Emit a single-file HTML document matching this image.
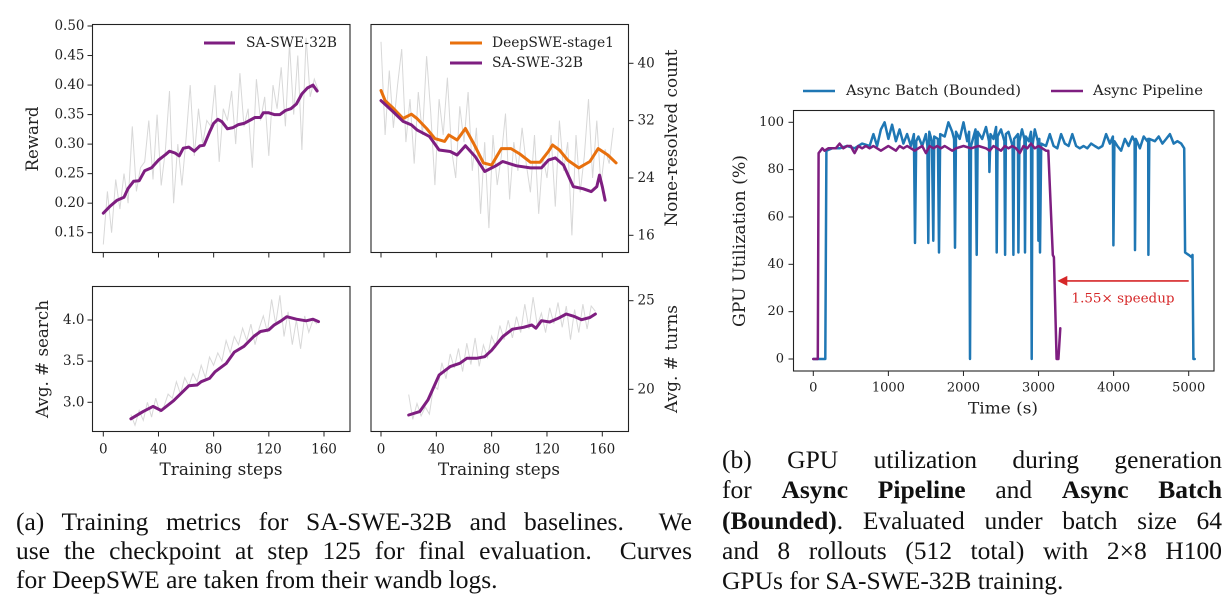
<!DOCTYPE html>
<html><head><meta charset="utf-8">
<style>
html,body{margin:0;padding:0;background:#fff;}
body{width:1232px;height:600px;position:relative;overflow:hidden;}
svg{position:absolute;left:0;top:0;}
.cap{position:absolute;font-family:"Liberation Serif",serif;font-size:25.5px;line-height:28px;color:#111;white-space:nowrap;}
.j{text-align:justify;text-align-last:justify;}
</style></head>
<body>
<svg id="fig" width="1232" height="600" xmlns="http://www.w3.org/2000/svg"></svg>

<div class="cap j" style="left:16px;top:508px;width:676px;">(a) Training metrics for SA-SWE-32B and baselines.&nbsp; We</div>
<div class="cap j" style="left:16px;top:537px;width:676px;">use the checkpoint at step 125 for final evaluation.&nbsp; Curves</div>
<div class="cap" style="left:16px;top:566px;">for DeepSWE are taken from their wandb logs.</div>

<div class="cap j" style="left:722px;top:446px;width:500px;">(b) GPU utilization during generation</div>
<div class="cap j" style="left:722px;top:476px;width:500px;">for <b>Async Pipeline</b> and <b>Async Batch</b></div>
<div class="cap j" style="left:722px;top:507px;width:500px;"><b>(Bounded)</b>. Evaluated under batch size 64</div>
<div class="cap j" style="left:722px;top:537px;width:500px;">and 8 rollouts (512 total) with 2×8 H100</div>
<div class="cap" style="left:722px;top:567px;">GPUs for SA-SWE-32B training.</div>

<script>
// ---------- data ----------
const stepTicks = [0, 40, 80, 120, 160];
const rawStep = 3;

const rewardSteps = [0,5,10,15,18,22,26,30,35,40,45,48,52,55,58,62,66,70,73,77,80,83,86,90,94,98,102,106,110,114,116,120,124,128,132,136,140,144,148,152,155];
const rewardSA = [0.183,0.195,0.205,0.21,0.225,0.237,0.238,0.255,0.26,0.273,0.282,0.288,0.285,0.28,0.293,0.295,0.288,0.297,0.298,0.32,0.335,0.342,0.338,0.326,0.328,0.333,0.335,0.34,0.345,0.345,0.353,0.353,0.35,0.35,0.357,0.36,0.368,0.385,0.395,0.4,0.39];
const rewardRaw = [0.13,0.22,0.15,0.24,0.19,0.25,0.2,0.33,0.22,0.26,0.27,0.34,0.24,0.35,0.23,0.29,0.39,0.2,0.3,0.23,0.31,0.4,0.28,0.36,0.3,0.34,0.33,0.4,0.27,0.36,0.34,0.39,0.3,0.42,0.33,0.36,0.26,0.41,0.34,0.38,0.28,0.4,0.36,0.43,0.33,0.47,0.35,0.45,0.29,0.48,0.38,0.41,0.39];
const rewardTicks = [0.15,0.20,0.25,0.30,0.35,0.40,0.45,0.50];

const deepSteps = [0,3,9,16,22,26,33,39,46,49,55,61,67,74,80,87,94,100,108,115,121,124,129,135,143,151,157,164,170];
const deepVals = [36.2,34.8,33.7,32.3,32.9,32.3,30.9,29.5,29.1,30.0,29.3,30.9,28.8,26.1,25.8,28.1,28.1,27.4,26.2,26.2,27.7,28.6,27.9,26.5,25.4,26.3,28.1,27.2,26.1];
const saUnresSteps = [0,9,16,22,26,35,42,50,55,61,68,75,83,88,98,108,116,121,126,132,139,146,152,156,158,160,162];
const saUnresVals = [34.8,33.2,31.9,31.4,30.7,29.8,27.9,27.7,27.2,28.5,27.0,24.9,25.7,26.3,25.7,25.4,25.4,26.5,26.8,25.8,22.8,22.5,22.1,22.8,24.4,22.8,20.9];
const unresRaw = [43,30,39,31,37,42,29,35,26,36,30,41,33,23,35,30,38,28,24,34,29,36,25,31,19,29,17,30,23,27,33,21,29,25,31,26,22,30,19,27,24,30,20,32,25,29,16,30,22,27,35,24,32,23,28,26,31];
const unresTicks = [16,24,32,40];

const searchSteps = [20,29,36,42,51,62,68,71,77,81,89,95,102,109,114,120,124,129,133,140,147,152,156];
const searchVals = [2.80,2.89,2.95,2.90,3.02,3.20,3.21,3.25,3.29,3.37,3.47,3.61,3.68,3.80,3.86,3.88,3.94,3.99,4.04,4.01,3.99,4.01,3.98];
const searchRaw = [2.85,2.72,2.9,2.78,3.0,2.82,3.05,2.88,2.95,3.1,3.05,3.25,3.1,3.3,3.2,3.35,3.25,3.45,3.3,3.55,3.45,3.6,3.5,3.75,3.6,3.8,3.7,3.9,3.75,3.95,3.7,3.9,4.05,3.85,4.25,3.95,4.3,3.8,4.1,3.7,4.0,3.65,4.05,3.85,4.0,3.95];
const searchTicks = [3.0,3.5,4.0];

const turnsSteps = [20,28,34,42,50,57,62,69,75,80,88,95,103,109,112,116,122,128,134,140,145,151,155];
const turnsVals = [18.55,18.74,19.4,20.8,21.28,21.47,21.75,21.75,21.84,22.2,22.97,23.39,23.5,23.63,23.45,23.87,23.8,24.0,24.25,24.1,23.93,24.05,24.25];
const turnsRaw = [19.7,18.3,19.2,18.5,19.0,18.6,20.2,20.0,21.5,20.6,22.0,21.2,22.3,21.0,22.6,21.4,22.9,21.3,22.5,21.8,23.0,22.4,23.6,22.8,23.9,22.9,24.1,23.2,24.8,23.4,25.2,23.6,24.3,23.2,24.6,23.7,24.9,23.5,24.7,22.8,24.5,23.2,24.8,23.4,24.7,24.4];
const turnsTicks = [20,25];

const timeTicks = [0,1000,2000,3000,4000,5000];
const utilTicks = [0,20,40,60,80,100];
const batchSeries = [[0,0],[160,0],[175,88],[250,89],[350,89],[450,90],[550,89],[650,91],[750,90],[800,95],[850,90],[900,97],[950,100],[1000,93],[1050,99],[1100,92],[1150,97],[1200,91],[1250,95],[1300,90],[1340,95],[1354,49],[1370,92],[1400,94],[1450,90],[1500,95],[1520,90],[1532,49],[1545,96],[1580,92],[1598,50],[1610,94],[1660,93],[1674,45],[1690,95],[1750,94],[1800,100],[1850,96],[1875,93],[1887,47],[1900,96],[1950,93],[2000,100],[2050,92],[2075,96],[2087,0],[2100,90],[2160,97],[2176,44],[2190,96],[2250,93],[2300,98],[2340,92],[2345,79],[2360,95],[2400,93],[2435,98],[2443,45],[2455,94],[2500,97],[2545,92],[2554,44],[2565,95],[2600,96],[2655,90],[2665,44],[2675,93],[2725,95],[2732,45],[2745,92],[2780,97],[2812,93],[2820,45],[2830,94],[2870,92],[2900,96],[2909,0],[2918,90],[2950,97],[2990,92],[2998,50],[3010,93],[3020,45],[3035,91],[3100,90],[3150,95],[3200,90],[3250,89],[3300,95],[3350,91],[3400,90],[3450,95],[3500,90],[3550,89],[3600,90],[3650,89],[3700,91],[3750,90],[3800,89],[3850,90],[3900,95],[3950,91],[3990,94],[3997,48],[4010,92],[4050,90],[4100,88],[4150,93],[4200,90],[4250,94],[4280,92],[4285,46],[4295,93],[4350,89],[4400,94],[4450,92],[4460,93],[4463,44],[4475,93],[4550,92],[4600,94],[4650,91],[4700,93],[4750,95],[4800,91],[4850,92],[4900,91],[4940,89],[4952,45],[5000,44],[5040,43],[5050,44],[5063,0],[5080,0]];
const pipelineSeries = [[0,0],[60,0],[70,87],[120,89],[150,88],[200,89],[300,89],[350,91],[400,89],[450,90],[500,90],[530,88],[550,87],[600,90],[650,89],[700,90],[750,89],[800,90],[850,89],[900,88],[950,89],[1000,90],[1050,89],[1100,88],[1150,90],[1200,89],[1250,90],[1300,89],[1350,88],[1400,89],[1450,90],[1500,87],[1550,90],[1600,89],[1650,90],[1700,89],[1750,90],[1800,89],[1850,88],[1900,89],[2000,90],[2100,89],[2200,90],[2300,89],[2350,88],[2400,90],[2450,89],[2500,88],[2550,90],[2600,89],[2650,90],[2700,89],[2750,87],[2800,90],[2850,89],[2900,91],[2950,89],[3000,90],[3050,89],[3100,88],[3130,88],[3190,44],[3205,43],[3240,0],[3265,0],[3290,13]];
const speedupLabel = "1.55× speedup";
const speedupFrom = 5000, speedupTo = 3250, speedupY = 33;

// ---------- drawing ----------
const NS = "http://www.w3.org/2000/svg";
const svg = document.getElementById('fig');
const PURPLE = "#7e1e80", ORANGE = "#e8700d", BLUE = "#1f77b4", GRAY = "#d8d8d8";
const TICKFONT = '"DejaVu Serif", "Liberation Serif", serif';

function mk(tag, attrs, parent) {
  const e = document.createElementNS(NS, tag);
  for (const k in attrs) e.setAttribute(k, attrs[k]);
  (parent || svg).appendChild(e);
  return e;
}
function lin(d0, d1, r0, r1) { return v => r0 + (v - d0) * (r1 - r0) / (d1 - d0); }
function txt(s, x, y, size, anchor, parent, extra) {
  const t = mk('text', Object.assign({x: x, y: y, 'font-size': size, 'font-family': TICKFONT, fill: '#222', 'text-anchor': anchor || 'start', 'dominant-baseline': 'central'}, extra || {}), parent);
  t.textContent = s;
  return t;
}
function pathFrom(xs, ys, sx, sy) {
  return xs.map((v, i) => (i ? 'L' : 'M') + sx(v).toFixed(1) + ',' + sy(ys[i]).toFixed(1)).join('');
}

function panel(name) {
  const g = mk('g', {});
  
  
  return g;
}
function frame(g, box) {
  const r = mk('rect', {x: box.l, y: box.t, width: box.r - box.l, height: box.b - box.t, fill: 'none', stroke: '#222', 'stroke-width': 1.1}, g);
  
  
}
function xTicks(g, box, sx, ticks, labels) {
  ticks.forEach(v => {
    const x = sx(v);
    mk('line', {x1: x, x2: x, y1: box.b, y2: box.b + 5, stroke: '#222', 'stroke-width': 1}, g);
    if (labels) {
      const t = txt(String(v), x, box.b + 18, 13.5, 'middle', g);
      
      
    }
  });
}
function yTicks(g, box, sy, ticks, side, fmt) {
  ticks.forEach(v => {
    const y = sy(v);
    if (side === 'left') {
      mk('line', {x1: box.l - 5, x2: box.l, y1: y, y2: y, stroke: '#222', 'stroke-width': 1}, g);
      const t = txt(fmt(v), box.l - 8, y, 13.5, 'end', g);
      
      
    } else {
      mk('line', {x1: box.r, x2: box.r + 5, y1: y, y2: y, stroke: '#222', 'stroke-width': 1}, g);
      const t = txt(fmt(v), box.r + 9, y, 13.5, 'start', g);
      
      
    }
  });
}
function rawLine(g, values, start, sx, sy, clipId) {
  const xs = values.map((v, i) => start + i * rawStep);
  const p = mk('path', {d: pathFrom(xs, values, sx, sy), fill: 'none', stroke: GRAY, 'stroke-width': 1, 'clip-path': 'url(#' + clipId + ')'}, g);
  
  
}
function smoothLine(g, xs, ys, sx, sy, color, name, w) {
  const p = mk('path', {d: pathFrom(xs, ys, sx, sy), fill: 'none', stroke: color, 'stroke-width': w || 3, 'stroke-linejoin': 'round', 'stroke-linecap': 'round'}, g);
  
  
}
function clip(id, box) {
  const defs = mk('defs', {});
  const c = mk('clipPath', {id: id}, defs);
  mk('rect', {x: box.l, y: box.t, width: box.r - box.l, height: box.b - box.t}, c);
}
function vlabel(g, s, x, y, len, rot, name) {
  const t = mk('text', {x: 0, y: 0, transform: 'translate(' + x + ',' + y + ') rotate(' + rot + ')', 'font-size': 17, 'font-family': TICKFONT, fill: '#222', 'text-anchor': 'middle', 'dominant-baseline': 'central', textLength: len, lengthAdjust: 'spacingAndGlyphs'}, g);
  t.textContent = s;
  
  
}
function hlabel(g, s, x, y, len, name, size) {
  const t = mk('text', {x: x, y: y, 'font-size': size || 17, 'font-family': TICKFONT, fill: '#222', 'text-anchor': 'middle', 'dominant-baseline': 'central', textLength: len, lengthAdjust: 'spacingAndGlyphs'}, g);
  t.textContent = s;
  
  
}
function legendEntry(g, x1, x2, y, color, label, tx, len, w) {
  const e = mk('g', {}, g);
  
  
  mk('line', {x1: x1, x2: x2, y1: y, y2: y, stroke: color, 'stroke-width': w || 3}, e);
  const t = mk('text', {x: tx, y: y, 'font-size': 13.5, 'font-family': TICKFONT, fill: '#222', 'dominant-baseline': 'central', textLength: len, lengthAdjust: 'spacingAndGlyphs'}, e);
  t.textContent = label;
}

// Panel 1: reward
(function () {
  const box = {l: 92.5, r: 350, t: 24.5, b: 252.5};
  const sx = lin(0, 160, 103.3, 324);
  const sy = lin(0.15, 0.50, 232.7, 26);
  const g = panel('reward-panel');
  clip('c1', box);
  rawLine(g, rewardRaw, 0, sx, sy, 'c1');
  smoothLine(g, rewardSteps, rewardSA, sx, sy, PURPLE, 'reward-sa-swe-line');
  frame(g, box);
  xTicks(g, box, sx, stepTicks, false);
  yTicks(g, box, sy, rewardTicks, 'left', v => v.toFixed(2));
  vlabel(g, 'Reward', 33, 139, 65, -90, 'y-axis-title');
  legendEntry(g, 204, 235, 43, PURPLE, 'SA-SWE-32B', 246, 91);
})();

// Panel 2: unresolved count
(function () {
  const box = {l: 371, r: 628.5, t: 24.5, b: 252.5};
  const sx = lin(0, 160, 381, 602.3);
  const sy = lin(16, 40, 235.3, 63.3);
  const g = panel('unresolved-panel');
  clip('c2', box);
  rawLine(g, unresRaw, 0, sx, sy, 'c2');
  smoothLine(g, deepSteps, deepVals, sx, sy, ORANGE, 'unresolved-deepswe-line');
  smoothLine(g, saUnresSteps, saUnresVals, sx, sy, PURPLE, 'unresolved-sa-swe-line');
  frame(g, box);
  xTicks(g, box, sx, stepTicks, false);
  yTicks(g, box, sy, unresTicks, 'right', v => String(v));
  vlabel(g, 'None-resolved count', 672, 138, 177, -90, 'y-axis-title');
  legendEntry(g, 450, 482, 43, ORANGE, 'DeepSWE-stage1', 492, 122);
  legendEntry(g, 450, 482, 63, PURPLE, 'SA-SWE-32B', 492, 91);
})();

// Panel 3: search
(function () {
  const box = {l: 92.5, r: 350, t: 286.5, b: 431.5};
  const sx = lin(0, 160, 103.3, 324);
  const sy = lin(3.0, 4.0, 402.3, 320);
  const g = panel('search-panel');
  clip('c3', box);
  rawLine(g, searchRaw, 20, sx, sy, 'c3');
  smoothLine(g, searchSteps, searchVals, sx, sy, PURPLE, 'search-sa-swe-line');
  frame(g, box);
  xTicks(g, box, sx, stepTicks, true);
  yTicks(g, box, sy, searchTicks, 'left', v => v.toFixed(1));
  vlabel(g, 'Avg. # search', 43, 359, 118, -90, 'y-axis-title');
  hlabel(g, 'Training steps', 221, 470, 123, 'x-axis-title');
})();

// Panel 4: turns
(function () {
  const box = {l: 371, r: 628.5, t: 286.5, b: 431.5};
  const sx = lin(0, 160, 381, 602.3);
  const sy = lin(20, 25, 389.3, 300.7);
  const g = panel('turns-panel');
  clip('c4', box);
  rawLine(g, turnsRaw, 20, sx, sy, 'c4');
  smoothLine(g, turnsSteps, turnsVals, sx, sy, PURPLE, 'turns-sa-swe-line');
  frame(g, box);
  xTicks(g, box, sx, stepTicks, true);
  yTicks(g, box, sy, turnsTicks, 'right', v => String(v));
  vlabel(g, 'Avg. # turns', 672, 359, 108, -90, 'y-axis-title');
  hlabel(g, 'Training steps', 499, 470, 122, 'x-axis-title');
})();

// Panel 5: GPU utilization
(function () {
  const box = {l: 793.5, r: 1214, t: 110.5, b: 371};
  const sx = lin(0, 5000, 813.3, 1188.7);
  const sy = lin(0, 100, 359, 122.3);
  const g = panel('gpu-utilization-chart');
  smoothLine(g, batchSeries.map(p => p[0]), batchSeries.map(p => p[1]), sx, sy, BLUE, 'async-batch-line', 2.5);
  smoothLine(g, pipelineSeries.map(p => p[0]), pipelineSeries.map(p => p[1]), sx, sy, PURPLE, 'async-pipeline-line', 2.5);
  frame(g, box);
  timeTicks.forEach(v => {
    const x = sx(v);
    mk('line', {x1: x, x2: x, y1: box.b, y2: box.b + 5, stroke: '#222', 'stroke-width': 1}, g);
    const t = txt(String(v), x, 388, 13, 'middle', g);
    
    
  });
  utilTicks.forEach(v => {
    const y = sy(v);
    mk('line', {x1: box.l - 5, x2: box.l, y1: y, y2: y, stroke: '#222', 'stroke-width': 1}, g);
    const t = txt(String(v), 784, y, 13, 'end', g);
    
    
  });
  vlabel(g, 'GPU Utilization (%)', 740, 241, 172, -90, 'y-axis-title');
  hlabel(g, 'Time (s)', 1003, 408, 70, 'x-axis-title', 16);
  const a = mk('g', {}, g);
  
  
  const ay = sy(speedupY), x1 = sx(speedupFrom), x2 = sx(speedupTo);
  mk('line', {x1: x1, x2: x2 + 8, y1: ay, y2: ay, stroke: '#d62728', 'stroke-width': 1.6}, a);
  mk('path', {d: 'M' + x2 + ',' + ay + ' l10,-5 l0,10 z', fill: '#d62728'}, a);
  const st = mk('text', {x: 1123, y: 299, 'font-size': 13, 'font-family': TICKFONT, fill: '#d62728', 'text-anchor': 'middle', 'dominant-baseline': 'central', textLength: 103, lengthAdjust: 'spacingAndGlyphs'}, a);
  st.textContent = speedupLabel;
  legendEntry(g, 803, 835, 91, BLUE, 'Async Batch (Bounded)', 846, 175, 2.5);
  legendEntry(g, 1051, 1083, 91, PURPLE, 'Async Pipeline', 1093, 110, 2.5);
})();
</script>
</body></html>
